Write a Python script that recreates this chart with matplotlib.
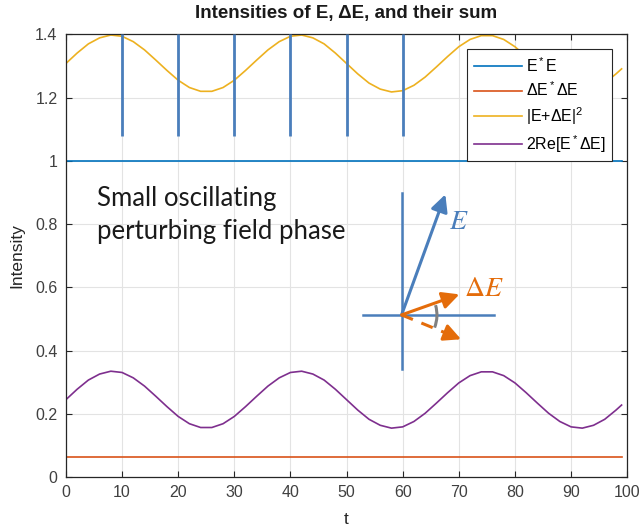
import numpy as np
import matplotlib.pyplot as plt
from matplotlib.patches import Arc

# time samples and the two oscillating intensities
t = [0, 2, 4, 6, 8, 10, 12, 14, 16, 18, 20, 22, 24, 26, 28, 30, 32, 34, 36, 38,
     40, 42, 44, 46, 48, 50, 52, 54, 56, 58, 60, 62, 64, 66, 68, 70, 72, 74, 76, 78,
     80, 82, 84, 86, 88, 90, 92, 94, 96, 98, 99]
cross_term = [0.245, 0.278, 0.307, 0.326, 0.335, 0.331, 0.314, 0.288, 0.256, 0.223,
              0.192, 0.169, 0.157, 0.157, 0.169, 0.192, 0.223, 0.256, 0.288, 0.314,
              0.331, 0.335, 0.326, 0.307, 0.278, 0.245, 0.212, 0.183, 0.164, 0.155,
              0.159, 0.176, 0.202, 0.234, 0.267, 0.298, 0.321, 0.333, 0.333, 0.321,
              0.298, 0.267, 0.234, 0.202, 0.176, 0.159, 0.155, 0.164, 0.183, 0.212, 0.228]
total = [1.308, 1.341, 1.370, 1.389, 1.398, 1.394, 1.377, 1.351, 1.319, 1.286,
         1.255, 1.232, 1.220, 1.220, 1.232, 1.255, 1.286, 1.319, 1.351, 1.377,
         1.394, 1.398, 1.389, 1.370, 1.341, 1.308, 1.275, 1.246, 1.227, 1.218,
         1.222, 1.239, 1.265, 1.297, 1.330, 1.361, 1.384, 1.396, 1.396, 1.384,
         1.361, 1.330, 1.297, 1.265, 1.239, 1.222, 1.218, 1.227, 1.246, 1.275, 1.291]
E_SQ = 1.0
DE_SQ = 0.0625

# phase-jump markers
spike_t = [10, 20, 30, 40, 50, 60]
spike_low = 1.08

# phasor sketch (data coords)
origin = (59.8, 0.513)
E_tip = (67.6, 0.894)
dE_tip = (70.1, 0.578)
dE_alt_tip = (70.4, 0.436)

plt.rcParams['font.family'] = 'Liberation Sans'
plt.rcParams['mathtext.fontset'] = 'custom'
plt.rcParams['mathtext.rm'] = 'Liberation Sans'
plt.rcParams['mathtext.it'] = 'Liberation Sans'

fig = plt.figure(figsize=(6.4, 5.29), dpi=100)
ax = fig.add_axes([0.103, 0.098, 0.877, 0.837])

c_blue = '#0072bd'
c_orange = '#d95319'
c_yellow = '#edb120'
c_purple = '#7e2f8e'

tt = np.array(t)
ax.plot(tt, np.full(len(tt), E_SQ), color=c_blue, lw=1.2, label='E$^*$E')
ax.plot(tt, np.full(len(tt), DE_SQ), color=c_orange, lw=1.2, label='ΔE$^*$ΔE')
ax.plot(tt, total, color=c_yellow, lw=1.2, label='|E+ΔE|$^2$')
ax.plot(tt, cross_term, color=c_purple, lw=1.2, label='2Re[E$^*$ΔE]')

ax.vlines(spike_t, spike_low, 1.4, color='#4a7ebb', lw=2, zorder=3)

ax.set_xlim(0, 100)
ax.set_ylim(0, 1.4)
ax.set_xticks(np.arange(0, 101, 10))
ax.set_yticks([0, 0.2, 0.4, 0.6, 0.8, 1.0, 1.2, 1.4])
ax.set_yticklabels(['0', '0.2', '0.4', '0.6', '0.8', '1', '1.2', '1.4'])
ax.grid(True, color='#e3e3e3', lw=0.8)
ax.set_axisbelow(True)
ax.tick_params(direction='in', top=True, right=True, labelsize=11.5,
               colors='#262626', labelcolor='#404040', length=4, pad=6)
for s in ax.spines.values():
    s.set_color('#262626')
    s.set_linewidth(0.9)

ax.set_xlabel('t', fontsize=12.5, color='#262626', labelpad=8)
ax.set_ylabel('Intensity', fontsize=12.5, color='#262626', labelpad=8)
ax.set_title('Intensities of E, ΔE, and their sum', fontsize=13.5, fontweight='bold',
             color='#1a1a1a', pad=12)

leg = ax.legend(loc='upper right', bbox_to_anchor=(0.973, 0.966), fontsize=11.5,
                fancybox=False, framealpha=1, edgecolor='#262626', borderaxespad=0,
                handlelength=3.0, borderpad=0.4, labelspacing=0.38, handletextpad=0.25)
leg.get_frame().set_linewidth(0.8)

# annotation text and phasor diagram
ax.text(5.6, 0.83, 'Small oscillating\nperturbing field phase', family=['Lato', 'DejaVu Sans'],
        fontsize=18.5, color='#1a1a1a', va='center', ha='left', linespacing=1.4)

arrow_blue = '#4a7ebb'
arrow_orange = '#e46c0a'
head = '-|>,head_length=0.6,head_width=0.3'
ax.plot([origin[0], origin[0]], [0.341, 0.898], color=arrow_blue, lw=1.8, zorder=4)
ax.plot([53.0, 76.2], [origin[1], origin[1]], color=arrow_blue, lw=1.8, zorder=4)
ax.annotate('', xy=E_tip, xytext=origin, zorder=5,
            arrowprops=dict(arrowstyle=head, color=arrow_blue, lw=2.2,
                            mutation_scale=17, shrinkA=0, shrinkB=0))
ax.annotate('', xy=dE_tip, xytext=origin, zorder=5,
            arrowprops=dict(arrowstyle=head, color=arrow_orange, lw=2.2,
                            mutation_scale=17, shrinkA=0, shrinkB=0))
# dashed shaft, then a solid head on its last stretch
near_tip = (origin[0] + 0.75 * (dE_alt_tip[0] - origin[0]),
            origin[1] + 0.75 * (dE_alt_tip[1] - origin[1]))
ax.plot([origin[0], near_tip[0]], [origin[1], near_tip[1]], color=arrow_orange,
        lw=2.2, ls=(0, (4, 3)), zorder=5)
ax.annotate('', xy=dE_alt_tip, xytext=near_tip, zorder=5,
            arrowprops=dict(arrowstyle=head, color=arrow_orange, lw=2.2,
                            mutation_scale=17, shrinkA=0, shrinkB=0))

# angle arc between the two perturbation arrows, radius ~35 px
rw, rh = 6.3, 0.112
a1 = np.degrees(np.arctan2(rh * np.sin(np.radians(-21)), rw * np.cos(np.radians(-21))))
a2 = np.degrees(np.arctan2(rh * np.sin(np.radians(16)), rw * np.cos(np.radians(16))))
ax.add_patch(Arc(origin, 2 * rw, 2 * rh, theta1=a1, theta2=a2,
                 color='#808080', lw=2.2, zorder=6))
ax.text(70.0, 0.806, '$E$', math_fontfamily='stix', fontsize=20,
        color=arrow_blue, ha='center', va='center')
ax.text(74.4, 0.594, r'$\Delta E$', math_fontfamily='stix', fontsize=20,
        color=arrow_orange, ha='center', va='center')

fig.savefig('out.png', dpi=100)
